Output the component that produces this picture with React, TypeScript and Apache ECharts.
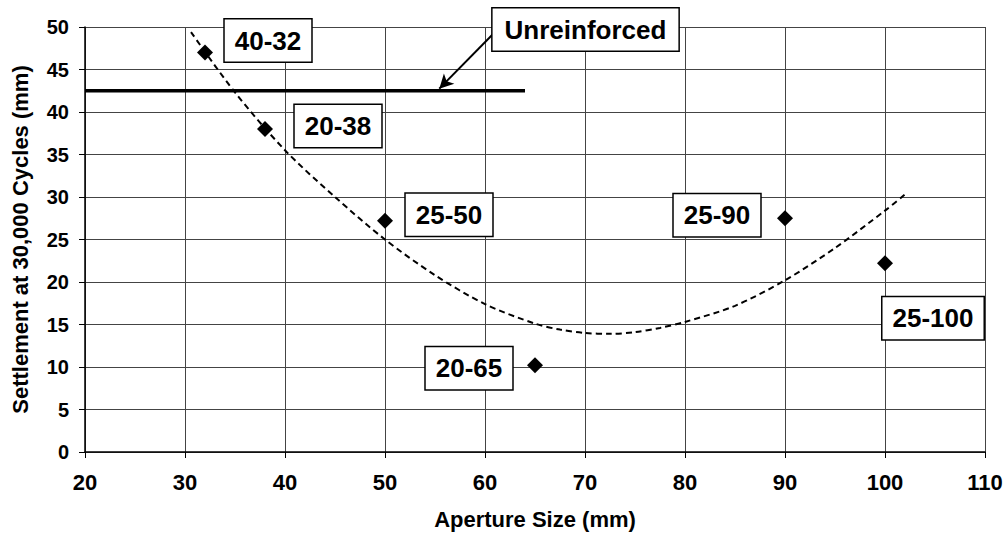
import React, { useEffect, useRef } from "react";
import * as echarts from "echarts";

const pointNames = ["40-32", "20-38", "25-50", "20-65", "25-90", "25-100"];
const apertureSizes = [32, 38, 50, 65, 90, 100];
const settlements = [47, 38, 27.2, 10.2, 27.5, 22.2];

const trendX = [30.6, 35, 40, 45, 50, 55, 60, 65, 67.5, 70, 72.5, 75, 77.5, 80, 85, 90, 95, 100, 102];
const trendY = [49.4, 42.3, 35.5, 30.0, 25.0, 20.8, 17.4, 15.1, 14.4, 14.0, 13.9, 14.1, 14.6, 15.3, 17.2, 20.2, 24.0, 28.4, 30.3];

const unreinforcedLevel = 42.5;
const unreinforcedStartX = 20;
const unreinforcedEndX = 64;
const unreinforcedText = "Unreinforced";

const xAxisTitle = "Aperture Size (mm)";
const yAxisTitle = "Settlement at 30,000 Cycles (mm)";

// label offsets (styling, px)
const labelOffsets: [number, number][] = [
  [63, -12],
  [73, -3],
  [64, -6],
  [-66, 3],
  [-68, -3],
  [48, 55],
];

const FONT = 'Arial, "Liberation Sans", sans-serif';

export default function App() {
  const ref = useRef<HTMLDivElement>(null);
  useEffect(() => {
    if (!ref.current) return;
    const chart = echarts.init(ref.current, null, { renderer: "svg" });
    const labelBox = {
      show: true,
      position: "inside",
      fontFamily: FONT,
      fontSize: 26,
      fontWeight: "bold",
      color: "#000",
      lineHeight: 26,
      backgroundColor: "#fff",
      borderColor: "#000",
      borderWidth: 1.5,
      padding: [8, 10],
      textBorderWidth: 0,
      textShadowBlur: 0,
      shadowBlur: 0,
      opacity: 1,
    };
    chart.setOption({
      animation: false,
      backgroundColor: "#fff",
      grid: { left: 85, right: 21, top: 27, bottom: 83, containLabel: false },
      xAxis: {
        type: "value",
        min: 20,
        max: 110,
        interval: 10,
        name: xAxisTitle,
        nameLocation: "middle",
        nameGap: 56,
        nameTextStyle: { fontFamily: FONT, fontSize: 22, fontWeight: "bold", color: "#000" },
        axisLine: { show: true, onZero: false, lineStyle: { color: "#000", width: 1.5 } },
        axisTick: { show: true, inside: false, length: 6, lineStyle: { color: "#000", width: 1 } },
        axisLabel: { margin: 19, fontFamily: FONT, fontSize: 22, fontWeight: "bold", color: "#000" },
        splitLine: { show: true, lineStyle: { color: "#444", width: 1 } },
      },
      yAxis: {
        type: "value",
        min: 0,
        max: 50,
        interval: 5,
        name: yAxisTitle,
        nameLocation: "middle",
        nameGap: 54,
        nameRotate: 90,
        nameTextStyle: { fontFamily: FONT, fontSize: 22, fontWeight: "bold", color: "#000" },
        axisLine: { show: true, onZero: false, lineStyle: { color: "#000", width: 1.5 } },
        axisTick: { show: true, inside: false, length: 6, lineStyle: { color: "#000", width: 1 } },
        axisLabel: { margin: 16, fontFamily: FONT, fontSize: 20, fontWeight: "bold", color: "#000" },
        splitLine: { show: true, lineStyle: { color: "#444", width: 1 } },
      },
      series: [
        {
          type: "line",
          name: "trend",
          data: trendX.map((x, i) => [x, trendY[i]]),
          smooth: 0.3,
          showSymbol: false,
          symbol: "none",
          silent: true,
          lineStyle: { color: "#000", width: 2, type: [6, 4] },
          z: 2,
        },
        {
          type: "line",
          name: "unreinforced",
          data: [
            [unreinforcedStartX, unreinforcedLevel],
            [unreinforcedEndX, unreinforcedLevel],
          ],
          symbol: "none",
          silent: true,
          lineStyle: { color: "#000", width: 3.5 },
          z: 3,
          markLine: {
            silent: true,
            symbol: ["none", "arrow"],
            symbolSize: [11, 14],
            label: { show: false },
            lineStyle: { color: "#000", width: 2, type: "solid" },
            data: [[{ coord: [60.83, 49.2] }, { coord: [55.43, 42.75] }]],
          },
        },
        {
          type: "scatter",
          name: "points",
          symbol: "diamond",
          symbolSize: 16,
          itemStyle: { color: "#000", opacity: 1 },
          z: 5,
          data: apertureSizes.map((x, i) => ({
            value: [x, settlements[i]],
            name: pointNames[i],
            label: { ...labelBox, offset: labelOffsets[i], formatter: pointNames[i] },
          })),
        },
        {
          type: "scatter",
          name: "annotation",
          symbolSize: 0,
          silent: true,
          itemStyle: { opacity: 1 },
          z: 6,
          data: [
            {
              value: [70.05, 49.7],
              label: { ...labelBox, padding: [8, 12], formatter: unreinforcedText },
            },
          ],
        },
      ],
    });
    return () => chart.dispose();
  }, []);
  return (
    <div
      ref={ref}
      style={{ position: "fixed", left: 0, top: 0, width: 1006, height: 535, background: "#fff" }}
    />
  );
}
